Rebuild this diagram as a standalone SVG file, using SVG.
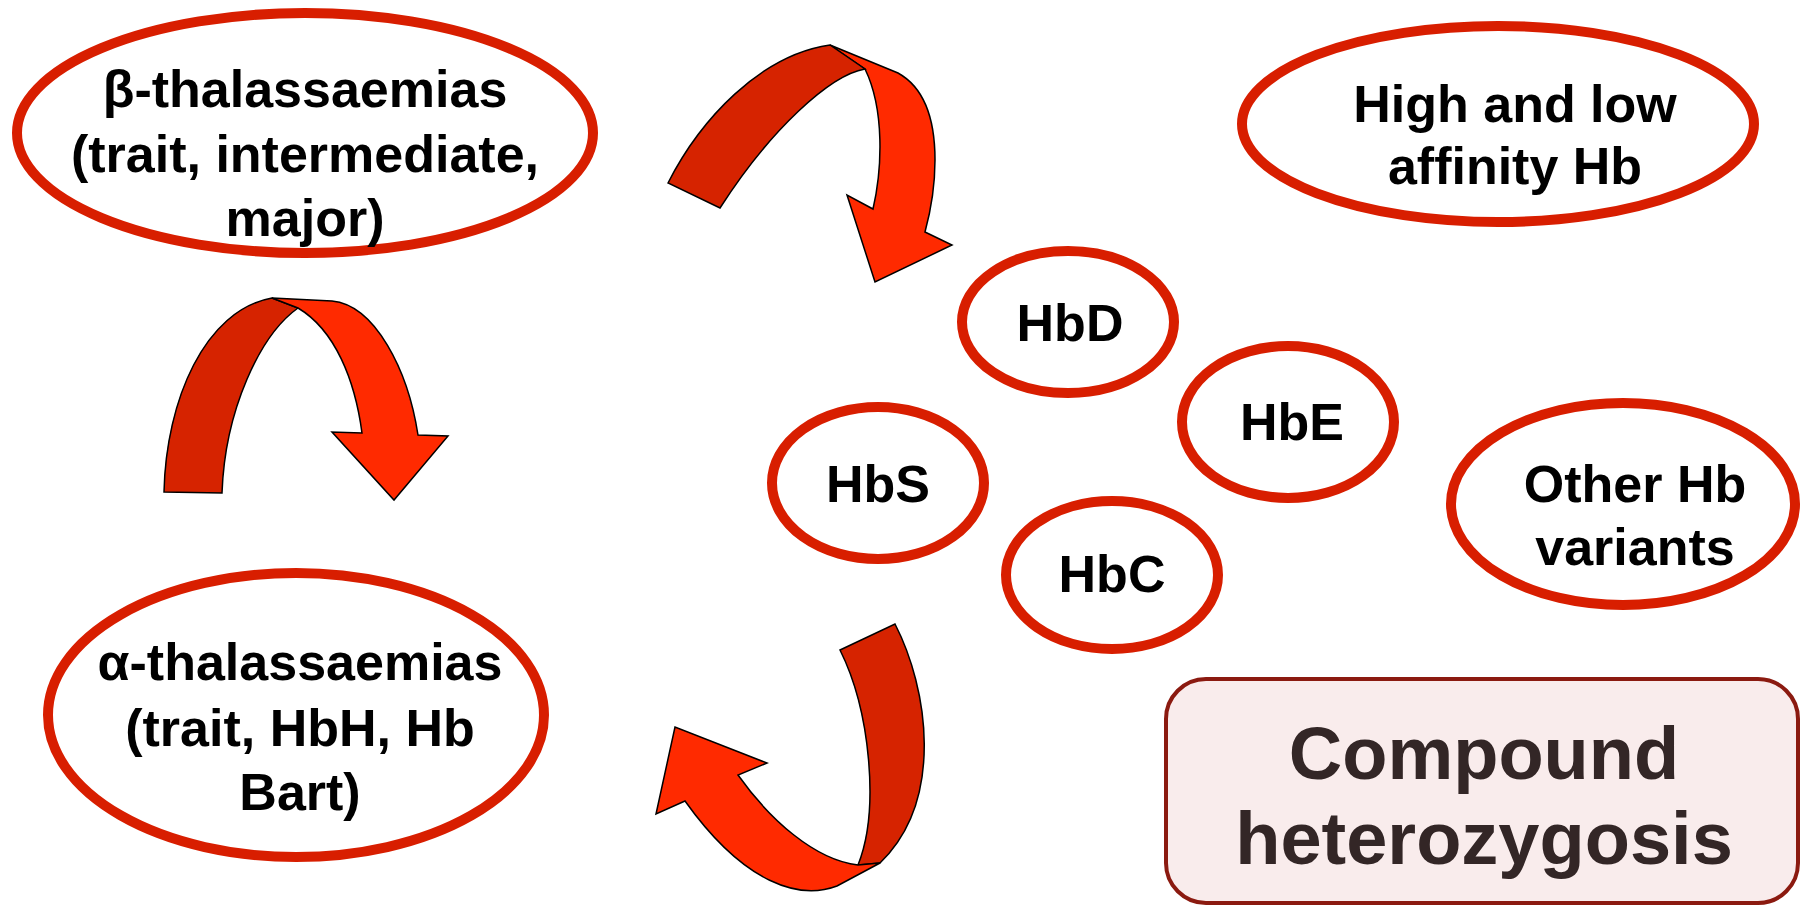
<svg xmlns="http://www.w3.org/2000/svg" width="1802" height="906" viewBox="0 0 1802 906">
<style>
.node ellipse{fill:#fff;stroke:#d81e00;stroke-width:10}
.node text{font-family:"Liberation Sans",Arial,sans-serif;font-weight:bold;font-size:52px;fill:#000;text-anchor:middle}
.dark{fill:#d62300;stroke:#000;stroke-width:1.5;stroke-linejoin:miter}
.light{fill:#ff2a00;stroke:#000;stroke-width:1.5;stroke-linejoin:miter}
</style>
<rect width="1802" height="906" fill="#fff"/>
<g id="connectors">
  <g id="arrow-top">
    <path class="light" d="M 830,45 L 898,73 C 925,88 935,120 935,160 Q 935,195 925,232 L 952,245 L 875,282 L 847,195 L 873,209 C 882,170 885,110 865,69 Z"/>
    <path class="dark" d="M 668,183 C 700,120 760,55 830,45 L 865,69 C 830,75 770,130 720,208 Z"/>
  </g>
  <g id="arrow-left">
    <path class="dark" d="M 164,492 C 166,400 205,310 272,298 L 298,308 C 260,335 225,410 222,493 Z"/>
    <path class="light" d="M 272,298 L 332,301 C 375,305 408,370 418,435 L 448,436 L 394,500 L 332,432 L 362,433 C 355,380 335,330 298,308 Z"/>
  </g>
  <g id="arrow-bottom">
    <path class="dark" d="M 840,650 L 895,624 C 928,688 945,800 880,863 L 858,865 C 880,810 870,710 840,650 Z"/>
    <path class="light" d="M 880,863 L 837,886 C 800,900 745,885 685,801 L 656,814 L 675,727 L 767,763 L 738,775 C 770,820 815,860 858,865 Z"/>
  </g>
</g>
<g id="beta" class="node">
  <ellipse cx="305" cy="133" rx="288" ry="120"/>
  <text x="305" y="107">β-thalassaemias</text>
  <text x="305" y="172">(trait, intermediate,</text>
  <text x="305" y="236">major)</text>
</g>
<g id="alpha" class="node">
  <ellipse cx="296" cy="715" rx="248" ry="142"/>
  <text x="300" y="680">α-thalassaemias</text>
  <text x="300" y="746">(trait, HbH, Hb</text>
  <text x="300" y="810">Bart)</text>
</g>
<g id="hbd" class="node">
  <ellipse cx="1068" cy="322" rx="106" ry="71"/>
  <text x="1070" y="341">HbD</text>
</g>
<g id="hbe" class="node">
  <ellipse cx="1288" cy="422" rx="106" ry="76"/>
  <text x="1292" y="440">HbE</text>
</g>
<g id="hbs" class="node">
  <ellipse cx="878" cy="483" rx="106" ry="76"/>
  <text x="878" y="502">HbS</text>
</g>
<g id="hbc" class="node">
  <ellipse cx="1112" cy="575" rx="106" ry="74"/>
  <text x="1112" y="592">HbC</text>
</g>
<g id="affinity" class="node">
  <ellipse cx="1498" cy="124" rx="256" ry="98"/>
  <text x="1515" y="122">High and low</text>
  <text x="1515" y="184">affinity Hb</text>
</g>
<g id="other" class="node">
  <ellipse cx="1623" cy="504" rx="172" ry="101"/>
  <text x="1635" y="502">Other Hb</text>
  <text x="1635" y="565">variants</text>
</g>
<g id="compound">
  <rect x="1166" y="679" width="632" height="224" rx="40" ry="40" fill="#f9ecec" stroke="#8b1a10" stroke-width="4"/>
  <text x="1484" y="779" font-family="Liberation Sans, Arial, sans-serif" font-weight="bold" font-size="74" fill="#332626" text-anchor="middle">Compound</text>
  <text x="1484" y="864" font-family="Liberation Sans, Arial, sans-serif" font-weight="bold" font-size="74" fill="#332626" text-anchor="middle">heterozygosis</text>
</g>
</svg>
